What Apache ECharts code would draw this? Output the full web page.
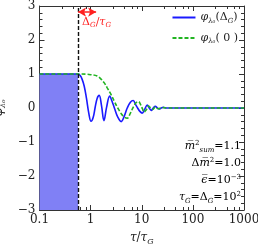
<!DOCTYPE html>
<html><head><meta charset="utf-8">
<script src="https://cdn.jsdelivr.net/npm/echarts@6/dist/echarts.min.js"></script>
<style>html,body{margin:0;padding:0;background:#fff}#c{width:258px;height:247px}</style>
</head><body><div id="c"></div>
<script>
// ---- data ----
const xTicks = [0.1, 1, 10, 100, 1000];
const yTicks = [-3, -2, -1, 0, 1, 2, 3];
const tauCut = 0.569;          // dashed line / shaded region edge
const arrowEnd = 1.28;         // right end of red arrow
const arrowY = 2.82;
const shadeTop = 1;

const tauBlue = [0.1, 0.569, 0.62, 0.68, 0.75, 0.83, 0.92, 1.02, 1.12, 1.22, 1.34, 1.47, 1.63, 1.82, 2.05, 2.36, 2.62, 2.95, 3.4, 3.96, 4.55, 5.2, 6.0, 6.8, 7.6, 8.3, 9.2, 10.2, 11.4, 12.8, 14.0, 15.3, 16.8, 18.4, 20.2, 22, 24, 26.5, 30, 36, 60, 1000];
const phiBlue = [1, 1, 0.96, 0.85, 0.64, 0.28, -0.15, -0.39, -0.28, 0.0, 0.28, 0.37, 0.08, -0.37, 0.02, 0.35, 0.2, -0.02, -0.27, -0.4, -0.24, 0.0, 0.17, 0.22, 0.1, 0.0, -0.1, -0.15, -0.04, 0.09, 0.0, -0.07, 0.0, 0.05, 0.0, -0.03, 0.0, 0.02, 0.0, 0.0, 0, 0];

const tauGreen = [0.1, 0.6, 0.8, 1.0, 1.34, 1.6, 1.85, 2.1, 2.5, 2.9, 3.4, 3.9, 4.5, 5.2, 6.0, 6.8, 7.8, 8.6, 9.5, 10.3, 11.1, 12.3, 13.5, 15, 16.5, 18.5, 21, 25, 32, 45, 1000];
const phiGreen = [1, 1, 0.995, 0.98, 0.94, 0.85, 0.74, 0.6, 0.4, 0.2, 0.0, -0.15, -0.26, -0.3, -0.15, 0.02, 0.16, 0.19, 0.1, -0.02, -0.12, -0.05, 0.06, 0.0, -0.04, 0.03, -0.02, 0.01, 0, 0, 0];

const F = 'DejaVu Serif';
const pair = (xs, ys) => xs.map((x, i) => [x, ys[i]]);
const subRich = {
  i: {fontFamily: F, fontStyle: 'italic', fontSize: 11, color: '#222'},
  n: {fontFamily: F, fontSize: 11, color: '#222'},
  s: {fontFamily: F, fontStyle: 'italic', fontSize: 7, color: '#222', padding: [7, 0, 0, 0]},
  p: {fontFamily: F, fontSize: 7, color: '#222', padding: [0, 0, 6, 0]}
};

const chart = echarts.init(document.getElementById('c'), null, {renderer: 'canvas'});
const axisCommon = {
  axisLine: {show: true, onZero: false, lineStyle: {color: '#333', width: 1}},
  axisTick: {show: true, inside: true, length: 5, lineStyle: {color: '#333'}},
  minorTick: {show: true, length: 3, lineStyle: {color: '#333'}},
  splitLine: {show: false}
};
chart.setOption({
  animation: false,
  grid: {left: 39.5, right: 14, top: 6, bottom: 37, containLabel: false, outerBoundsMode: 'none'},
  legend: {
    orient: 'vertical', right: 15, top: 7, itemWidth: 23, itemHeight: 10, itemGap: 8,
    itemStyle: {opacity: 0, borderWidth: 0},
    data: ['blue', 'green'],
    formatter: n => n === 'blue' ? '{i|φ}{s|λ₀}{n|(Δ}{s|G}{n|)}' : '{i|φ}{s|λ₀}{n|( 0 )}',
    textStyle: {rich: subRich, padding: [0, 0, 0, 0]}
  },
  xAxis: [
    Object.assign({type: 'log', logBase: 10, min: 0.1, max: 1000, position: 'bottom',
      name: '{i|τ}{n|/}{i|τ}{s|G}', nameLocation: 'middle', nameGap: 20,
      nameTextStyle: {rich: {i: {fontFamily: F, fontStyle: 'italic', fontSize: 12, color: '#222'}, n: {fontFamily: F, fontSize: 12, color: '#222'}, s: {fontFamily: F, fontStyle: 'italic', fontSize: 8, color: '#222', padding: [8, 0, 0, 0]}}},
      axisLabel: {fontFamily: F, fontSize: 12, color: '#222', margin: 4,
        formatter: v => xTicks.includes(+v) ? String(v) : ''}}, axisCommon),
    Object.assign({type: 'log', logBase: 10, min: 0.1, max: 1000, position: 'top', axisLabel: {show: false}}, axisCommon)
  ],
  yAxis: [
    Object.assign({type: 'value', min: -3, max: 3, interval: 1, position: 'left',
      name: '{i|φ}{s|λ₀}', nameLocation: 'middle', nameGap: 24, nameRotate: 90,
      nameTextStyle: {rich: {i: {fontFamily: F, fontStyle: 'italic', fontSize: 12, color: '#222'}, s: {fontFamily: F, fontStyle: 'italic', fontSize: 8, color: '#222', padding: [8, 0, 0, 0]}}},
      axisLabel: {fontFamily: F, fontSize: 12, color: '#222', margin: 4,
        formatter: v => yTicks.includes(v) ? String(v).replace('-', '−') : ''}}, axisCommon,
      {minorTick: {show: true, splitNumber: 5, length: 3, lineStyle: {color: '#333'}}}),
    Object.assign({type: 'value', min: -3, max: 3, interval: 1, position: 'right', axisLabel: {show: false}}, axisCommon,
      {minorTick: {show: true, splitNumber: 5, length: 3, lineStyle: {color: '#333'}}})
  ],
  series: [
    {
      name: 'blue', type: 'line', data: pair(tauBlue, phiBlue), showSymbol: false, symbol: 'none',
      smooth: 0.4, lineStyle: {color: '#1a1aff', width: 1.6}, itemStyle: {color: '#1a1aff'}, z: 3,
      markArea: {silent: true, itemStyle: {color: '#8080f5', opacity: 1},
        data: [[{coord: [0.1, -3]}, {coord: [tauCut, shadeTop]}]]},
      markLine: {silent: true, symbol: 'none', label: {show: false},
        lineStyle: {color: '#111', type: [4, 2], width: 1.4},
        data: [[{coord: [tauCut, -3]}, {coord: [tauCut, 3]}]]}
    },
    {
      name: 'green', type: 'line', data: pair(tauGreen, phiGreen), showSymbol: false, symbol: 'none',
      smooth: 0.4, lineStyle: {color: '#22b422', width: 1.6, type: [4, 2]}, itemStyle: {color: '#22b422'}, z: 4,
      markLine: {silent: true, symbol: ['arrow', 'arrow'], symbolSize: [7, 8],
        lineStyle: {color: '#ff2020', type: 'solid', width: 1.5},
        label: {show: true, position: 'insideStartBottom', distance: [4, 3], formatter: '{r|Δ}{rs|G}{r|/}{ri|τ}{rs|G}',
          rich: {r: {fontFamily: F, fontSize: 11, color: '#ff2020'}, ri: {fontFamily: F, fontStyle: 'italic', fontSize: 11, color: '#ff2020'}, rs: {fontFamily: F, fontStyle: 'italic', fontSize: 7, color: '#ff2020', padding: [7, 0, 0, 0]}}},
        data: [[{coord: [tauCut, arrowY]}, {coord: [arrowEnd, arrowY]}]]}
    }
  ],
  graphic: [
    {type: 'text', right: 17, top: 140, style: {text: '{i|m̅}{p|2}{s|sum}{n|=1.1}', rich: subRich}},
    {type: 'text', right: 17, top: 157, style: {text: '{n|Δ}{i|m̅}{p|2}{n|=1.0}', rich: subRich}},
    {type: 'text', right: 17, top: 174, style: {text: '{i|ϵ̅}{n|=10}{p|−3}', rich: subRich}},
    {type: 'text', right: 17, top: 191, style: {text: '{i|τ}{s|G}{n|=Δ}{s|G}{n|=10}{p|2}', rich: subRich}}
  ]
});
</script></body></html>
